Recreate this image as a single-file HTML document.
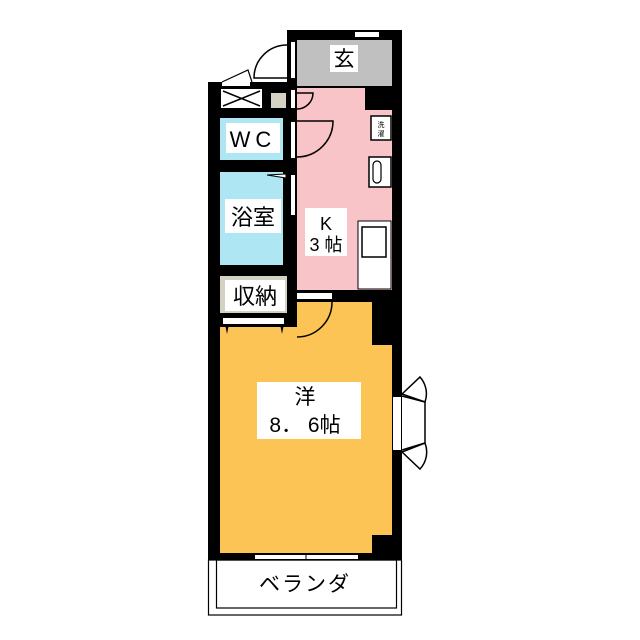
<!DOCTYPE html>
<html><head><meta charset="utf-8"><style>
body{margin:0;background:#fff}
svg{display:block}
text{font-family:"Liberation Sans","Noto Sans CJK JP",sans-serif;fill:#000}
</style></head><body>
<svg width="640" height="640" viewBox="0 0 640 640" xmlns="http://www.w3.org/2000/svg">
<rect width="640" height="640" fill="#fff"/>
<rect x="287" y="30" width="115" height="530" fill="#000"/>
<rect x="208" y="82" width="90" height="478" fill="#000"/>
<!-- genkan -->
<rect x="297" y="40" width="95" height="46" fill="#c0c0c0"/>
<rect x="355" y="32" width="24" height="5" fill="#fff"/>
<rect x="291" y="42" width="4" height="36" fill="#fff"/>
<path d="M287 45 A33 33 0 0 0 254 78 L287 78" fill="none" stroke="#000" stroke-width="1.5"/>
<!-- kitchen -->
<rect x="297" y="88" width="95" height="202" fill="#f8c4c8"/>
<rect x="365" y="88" width="27" height="22" fill="#000"/>
<rect x="291" y="90" width="4" height="18" fill="#fff"/>
<path d="M297 93 L313 93 A16 16 0 0 1 297 109" fill="none" stroke="#000" stroke-width="1.5"/>
<rect x="291" y="122" width="4" height="36" fill="#fff"/>
<path d="M297 121 L333 121 A36 36 0 0 1 297 157" fill="none" stroke="#000" stroke-width="1.5"/>
<rect x="291" y="175" width="4" height="40" fill="#fff"/>
<rect x="371" y="116" width="20" height="24" fill="#fff" stroke="#000" stroke-width="1.5"/>
<text x="381" y="127" font-size="7" text-anchor="middle">洗</text>
<text x="381" y="136" font-size="7" text-anchor="middle">濯</text>
<rect x="369" y="157" width="22" height="30" fill="#fff" stroke="#000" stroke-width="1.5"/>
<rect x="373" y="161" width="8" height="22" rx="4" fill="none" stroke="#000" stroke-width="1.2"/>
<rect x="358" y="221" width="33" height="68" fill="#fff" stroke="#000" stroke-width="1"/>
<rect x="362" y="227" width="24" height="30" fill="#fff" stroke="#000" stroke-width="1.5"/>
<rect x="305" y="208" width="42" height="48" fill="#fff"/>
<text x="326" y="230" font-size="18" text-anchor="middle">K</text>
<text x="326" y="251" font-size="18" text-anchor="middle">3 帖</text>
<!-- meter box -->
<rect x="221" y="89" width="41" height="19" fill="#fff"/>
<path d="M223 91 L260 106 M260 91 L223 106" stroke="#000" stroke-width="1.5"/>
<rect x="222" y="82" width="28" height="4" fill="#fff"/>
<path d="M222 82 L248 70 L252 82" fill="none" stroke="#000" stroke-width="1.2"/>
<rect x="271" y="93" width="15" height="15" fill="#d5d2c4"/>
<!-- WC -->
<rect x="220" y="118" width="63" height="42" fill="#aee6f4"/>
<rect x="226" y="123" width="54" height="30" fill="#fff"/>
<text x="253" y="147" font-size="22" text-anchor="middle" letter-spacing="5">WC</text>
<!-- bath -->
<rect x="220" y="172" width="63" height="93" fill="#aee6f4"/>
<path d="M267 175 L286 178 L286 174 Z" fill="#fff" stroke="#000" stroke-width="1"/>
<rect x="225" y="199" width="56" height="34" fill="#fff"/>
<text x="253" y="225" font-size="22" text-anchor="middle">浴室</text>
<!-- storage -->
<rect x="220" y="276" width="67" height="37" fill="#d5d2c4"/>
<rect x="225" y="280" width="60" height="31" fill="#fff"/>
<text x="255" y="304" font-size="22" text-anchor="middle">収納</text>
<rect x="223" y="318" width="61" height="6" fill="#fff"/>
<!-- western room -->
<path d="M297 302 L372 302 L372 345 L392 345 L392 535 L372 535 L372 553 L220 553 L220 327 L297 327 Z" fill="#fbc454"/>
<path d="M225 324 L227 334 L229 324 Z M280 324 L282 334 L284 324 Z" fill="#000"/>
<rect x="297" y="293" width="35" height="6" fill="#fff"/>
<path d="M332 302 A35 35 0 0 1 297 337" fill="none" stroke="#000" stroke-width="1.5"/>
<rect x="257" y="382" width="104" height="57" fill="#fff"/>
<text x="305" y="404" font-size="21" text-anchor="middle">洋</text>
<text x="305" y="432" font-size="21" text-anchor="middle">8．  6帖</text>
<!-- bay window -->
<rect x="393" y="397" width="8" height="53" fill="#fff"/>
<path d="M402 396 L425 402 L425 443 L402 450" fill="none" stroke="#000" stroke-width="1.5"/>
<path d="M402 394 L420 377 A25 25 0 0 1 425 402 M402 394 L425 402 M402 452 L420 469 A25 25 0 0 0 425 443 M402 452 L425 443" fill="none" stroke="#000" stroke-width="1.5"/>
<!-- veranda window -->
<rect x="255" y="555" width="103" height="4" fill="#fff"/>
<line x1="306" y1="553" x2="306" y2="560" stroke="#000"/>
<!-- veranda -->
<rect x="208.5" y="560" width="193" height="55" fill="#fff" stroke="#000" stroke-width="1.2"/>
<rect x="216.5" y="560" width="180" height="48" fill="none" stroke="#000" stroke-width="1.2"/>
<text x="305" y="591" font-size="21" text-anchor="middle" letter-spacing="2">ベランダ</text>
<!-- genkan label -->
<rect x="330" y="45" width="28" height="27" fill="#fff"/>
<text x="344" y="66" font-size="21" text-anchor="middle">玄</text>
</svg>
</body></html>
